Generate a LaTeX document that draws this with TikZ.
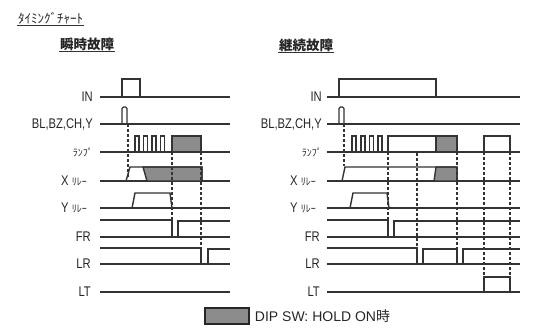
\documentclass[tikz,border=0pt]{standalone}
\usepackage{fontspec}
\setmainfont{Liberation Sans}
\newfontfamily\jp{Noto Sans CJK JP}
\newfontfamily\lbl[FakeStretch=0.8]{Liberation Sans}
\newcommand{\smallkana}[1]{{\jp\fontsize{10}{10}\selectfont #1}}
\usetikzlibrary{positioning}
\begin{document}
\begin{tikzpicture}[x=1pt,y=-1pt,
    sig/.style={line width=1.4pt,black!80},
    guide/.style={line width=1.1pt,black!80,dash pattern=on 3pt off 2pt},
    hatch/.style={fill=black!45},
    lab/.style={anchor=base east,yshift=-5pt,inner sep=0pt,text=black!85,
      font=\lbl\fontsize{14}{16}\selectfont},
    head/.style={inner sep=1pt,text=black!85,font=\jp\bfseries\fontsize{13.5}{15}\selectfont}]
  \useasboundingbox (0,0) rectangle (539,334);
  % titles
  \draw
    (17,18) node[anchor=west,inner sep=1pt,text=black!85,font=\jp\fontsize{13}{14}\selectfont] (title){ﾀｲﾐﾝｸﾞﾁｬｰﾄ}
    (87,44) node[head] (left){瞬時故障}
    (306,45) node[head] (right){継続故障};
  \begin{scope}[line width=1.1pt,black!80]
    \draw (title.south west) -- (title.south east);
    \draw (left.south west) -- (left.south east);
    \draw (right.south west) -- (right.south east);
  \end{scope}
  % signal names
  \draw
    (93,97) node[lab] (l0){IN}
    (93,124) node[lab] (l1){BL,BZ,CH,Y}
    (93,152) node[lab] (l2){\smallkana{ﾗﾝﾌﾟ}}
    (87,181) node[lab] (l3){X \smallkana{ﾘﾚｰ}}
    (87,208) node[lab] (l4){Y \smallkana{ﾘﾚｰ}}
    (91,237) node[lab] (l5){FR}
    (91,264) node[lab] (l6){LR}
    (91,292) node[lab] (l7){LT};
  \draw
    (322,97) node[lab] (r0){IN}
    (322,124) node[lab] (r1){BL,BZ,CH,Y}
    (322,152) node[lab] (r2){\smallkana{ﾗﾝﾌﾟ}}
    (316,181) node[lab] (r3){X \smallkana{ﾘﾚｰ}}
    (316,208) node[lab] (r4){Y \smallkana{ﾘﾚｰ}}
    (320,237) node[lab] (r5){FR}
    (320,264) node[lab] (r6){LR}
    (320,292) node[lab] (r7){LT};
  % left chart
  \begin{scope}[sig]
    \foreach \y in {97,124,152,181,208,237,264,292}
      \draw (100,\y) -- (230,\y);
    \draw (122,97) |- (140,79) -- (140,97);
    \draw[rounded corners=1.5pt] (122,124) |- (127,107) -- (127,124);
    \foreach \x in {135,143.5,152,160.5}
      \draw (\x,152) |- (\x+4,136) -- (\x+4,152);
    \filldraw[hatch] (172,152) rectangle (201,136);
    \filldraw[hatch] (143,167) -- (147,181) -- (202,181) -- (202,167) -- cycle;
    \draw (126,181) -- (130,167) -- (202,167) -- (202,181);
    \draw (132,208) -- (135,193) -- (170,193) -- (172,208);
    \draw (100,220) -| (172,237);
    \draw (178,237) |- (230,221);
    \draw (100,248) -| (201,264);
    \draw (208,264) |- (230,249);
  \end{scope}
  \draw[guide] (128,124) -- (128,178);
  \draw[guide] (172,152) -- (172,220);
  \draw[guide] (201,152) -- (201,248);
  % right chart
  \begin{scope}[sig]
    \foreach \y in {97,124,152,181,208,237,264,292}
      \draw (327,\y) -- (520,\y);
    \draw (339,97) |- (436,79) -- (436,97);
    \draw[rounded corners=1.5pt] (339,124) |- (344,107) -- (344,124);
    \foreach \x in {352,361,369.5,378}
      \draw (\x,152) |- (\x+4,136) -- (\x+4,152);
    \filldraw[hatch] (436,152) rectangle (457,136);
    \draw (388,152) |- (457,136) -- (457,152);
    \draw (484,152) |- (510,136) -- (510,152);
    \filldraw[hatch] (436,167) -- (434,181) -- (457,181) -- (457,167) -- cycle;
    \draw (342,181) -- (345,167) -- (457,167) -- (457,181);
    \draw (350,208) -- (353,193) -- (387,193) -- (389,208);
    \draw (327,220) -| (388,237);
    \draw (394,237) |- (520,221);
    \draw (327,248) -| (417,264);
    \draw (423,264) |- (457,249) -- (457,264);
    \draw (463,264) |- (520,249);
    \draw (484,292) |- (510,277) -- (510,292);
  \end{scope}
  \draw[guide] (344,124) -- (344,166);
  \draw[guide] (388,152) -- (388,220);
  \draw[guide] (417,153) -- (417,248);
  \draw[guide] (457,152) -- (457,248);
  \draw[guide] (484,152) -- (484,277);
  \draw[guide] (510,152) -- (510,277);
  % legend
  \node[draw=black!85,line width=1.5pt,hatch,minimum width=44pt,minimum height=16pt,inner sep=0pt]
    (key) at (227,316) {};
  \node[right=5pt of key,inner sep=0pt,text=black!85,font=\fontsize{14}{16}\selectfont]
    (keytext){DIP SW: HOLD ON{\jp 時}};
\end{tikzpicture}
\end{document}
